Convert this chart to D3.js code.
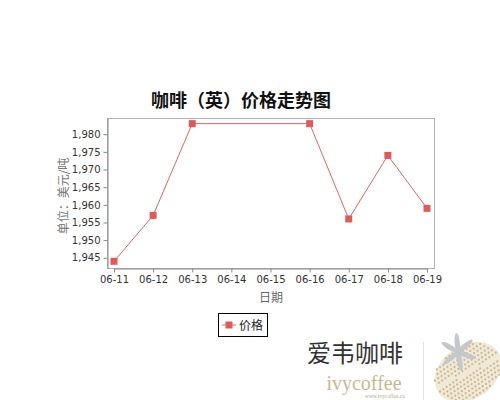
<!DOCTYPE html>
<html>
<head>
<meta charset="utf-8">
<script src="https://cdn.jsdelivr.net/npm/d3@7"></script>
<style>
  body { margin: 0; background: #fff; }
  svg { display: block; }
</style>
</head>
<body>
<script>
"use strict";

// chart data
const dates = ["06-11", "06-12", "06-13", "06-14", "06-15", "06-16", "06-17", "06-18", "06-19"];
const priceDates = ["06-11", "06-12", "06-13", "06-16", "06-17", "06-18", "06-19"];
const prices = [1944, 1957, 1983, 1983, 1956, 1974, 1959];
const yTicks = [1945, 1950, 1955, 1960, 1965, 1970, 1975, 1980];

const titleText = "咖啡（英）价格走势图";
const yTitle = "单位：美元/吨";
const xTitle = "日期";
const seriesName = "价格";

const W = 500, H = 400;
const plot = { left: 107, right: 434, top: 118, bottom: 268 };
const red = "#e05a5a";

const svg = d3.select("body").append("svg")
  .attr("width", W)
  .attr("height", H);

const x = d3.scalePoint()
  .domain(dates)
  .range([plot.left + 7, plot.right - 7]);

const y = d3.scaleLinear()
  .domain([1942.1, 1984.6])
  .range([plot.bottom, plot.top]);

// plot frame
svg.append("rect")
  .attr("x", plot.left + 0.5)
  .attr("y", plot.top + 0.5)
  .attr("width", plot.right - plot.left)
  .attr("height", plot.bottom - plot.top)
  .attr("fill", "none")
  .attr("stroke", "#b4b4b4");

// axes
const xAxis = svg.append("g")
  .attr("transform", `translate(0,${plot.bottom + 0.5})`)
  .call(d3.axisBottom(x).tickSizeInner(4).tickSizeOuter(0).tickPadding(3));

const yAxis = svg.append("g")
  .attr("transform", `translate(${plot.left + 0.5},0)`)
  .call(d3.axisLeft(y).tickValues(yTicks).tickFormat(d3.format(",")).tickSizeInner(4).tickSizeOuter(0).tickPadding(3));

for (const g of [xAxis, yAxis]) {
  g.select(".domain").attr("stroke", "#8a8a8a");
  g.selectAll(".tick line").attr("stroke", "#8a8a8a");
  g.selectAll(".tick text")
    .attr("fill", "#333")
    .style("font-family", "DejaVu Sans")
    .style("font-size", "10px");
}

// titles
svg.append("text")
  .attr("x", 241)
  .attr("y", 107)
  .attr("text-anchor", "middle")
  .attr("fill", "#111")
  .style("font-family", "Noto Sans CJK SC")
  .style("font-weight", "bold")
  .style("font-size", "18px")
  .text(titleText);

svg.append("text")
  .attr("transform", `translate(68,196) rotate(-90)`)
  .attr("text-anchor", "middle")
  .attr("fill", "#777")
  .style("font-family", "Noto Sans CJK SC")
  .style("font-size", "12px")
  .text(yTitle);

svg.append("text")
  .attr("x", 271)
  .attr("y", 302)
  .attr("text-anchor", "middle")
  .attr("fill", "#666")
  .style("font-family", "Noto Sans CJK SC")
  .style("font-size", "12px")
  .text(xTitle);

// series
const pts = priceDates.map((d, i) => ({ date: d, value: prices[i] }));

svg.append("path")
  .datum(pts)
  .attr("fill", "none")
  .attr("stroke", "#d46a6a")
  .attr("stroke-width", 1)
  .attr("d", d3.line().x(d => x(d.date)).y(d => y(d.value)));

svg.selectAll("rect.marker")
  .data(pts)
  .enter()
  .append("rect")
    .attr("class", "marker")
    .attr("x", d => x(d.date) - 3.5)
    .attr("y", d => y(d.value) - 3.5)
    .attr("width", 7)
    .attr("height", 7)
    .attr("fill", red);

// legend
const legend = svg.append("g").attr("transform", "translate(218,313)");
legend.append("rect")
  .attr("x", 0.5).attr("y", 0.5)
  .attr("width", 49).attr("height", 23)
  .attr("fill", "#fff")
  .attr("stroke", "#000");
legend.append("line")
  .attr("x1", 4).attr("x2", 18)
  .attr("y1", 12).attr("y2", 12)
  .attr("stroke", "#d46a6a");
legend.append("rect")
  .attr("x", 7.5).attr("y", 8.5)
  .attr("width", 7).attr("height", 7)
  .attr("fill", red);
legend.append("text")
  .attr("x", 21).attr("y", 16.5)
  .attr("fill", "#222")
  .style("font-family", "Noto Sans CJK SC")
  .style("font-size", "12px")
  .text(seriesName);

// watermark logo, bottom right
const logo = svg.append("g");
logo.append("text")
  .attr("x", 355).attr("y", 362)
  .attr("text-anchor", "middle")
  .attr("fill", "#333")
  .style("font-family", "Noto Sans CJK SC")
  .style("font-size", "24px")
  .text("爱韦咖啡");
logo.append("text")
  .attr("x", 364).attr("y", 390)
  .attr("text-anchor", "middle")
  .attr("fill", "#c9b98f")
  .style("font-family", "Liberation Serif")
  .style("font-size", "20px")
  .text("ivycoffee");
logo.append("text")
  .attr("x", 385).attr("y", 398)
  .attr("text-anchor", "middle")
  .attr("fill", "#b8a98a")
  .style("font-family", "Liberation Serif")
  .style("font-size", "5.5px")
  .text("www.ivycoffee.cn");
logo.append("line")
  .attr("x1", 423.5).attr("x2", 423.5)
  .attr("y1", 342).attr("y2", 400)
  .attr("stroke", "#e2e2e2");

// coffee bean made of speckles
const bean = logo.append("g").attr("transform", "translate(468,372) rotate(-35)");
bean.append("ellipse")
  .attr("rx", 36).attr("ry", 27)
  .attr("fill", "#f1e9d8");
const speck = [];
for (let r = -24; r <= 24; r += 4) {
  for (let c = -34; c <= 34; c += 4) {
    if ((c * c) / (35 * 35) + (r * r) / (26 * 26) < 1 && Math.abs(r - c * 0.15) > 2) {
      speck.push({ c: c + ((r / 4) % 2) * 2, r });
    }
  }
}
bean.selectAll("circle")
  .data(speck)
  .enter()
  .append("circle")
    .attr("cx", d => d.c)
    .attr("cy", d => d.r)
    .attr("r", 1.1)
    .attr("fill", "#cdb88e");

// flower, grey petals
const flower = logo.append("g").attr("transform", "translate(458,352)");
[-150, -95, -40, 20, 80, 140].forEach(a => {
  flower.append("ellipse")
    .attr("cx", 9).attr("cy", 0)
    .attr("rx", 10).attr("ry", 2.6)
    .attr("transform", `rotate(${a})`)
    .attr("fill", "#c4c8cc");
});
</script>
</body>
</html>
